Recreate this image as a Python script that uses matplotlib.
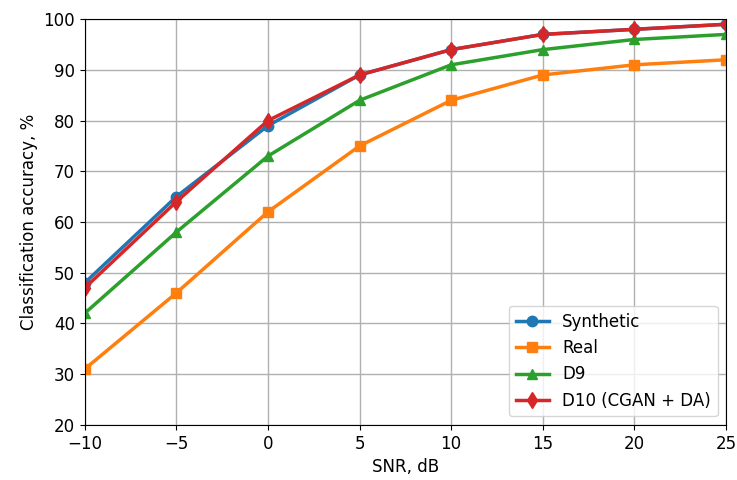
import matplotlib
matplotlib.use('Agg')
import matplotlib.pyplot as plt

# data
snr = [-10, -5, 0, 5, 10, 15, 20, 25]
synthetic = [48, 65, 79, 89, 94, 97, 98, 99]
real = [31, 46, 62, 75, 84, 89, 91, 92]
d9 = [42, 58, 73, 84, 91, 94, 96, 97]
d10 = [47, 64, 80, 89, 94, 97, 98, 99]

plt.rcParams['font.size'] = 12
fig, ax = plt.subplots(figsize=(7.37, 4.8), dpi=100)

ax.plot(snr, synthetic, marker='o', color='#1f77b4', lw=2.5, ms=7.5, label='Synthetic')
ax.plot(snr, real, marker='s', color='#ff7f0e', lw=2.5, ms=7.5, label='Real')
ax.plot(snr, d9, marker='^', color='#2ca02c', lw=2.5, ms=7.5, label='D9')
ax.plot(snr, d10, marker='d', color='#d62728', lw=2.5, ms=8.5, label='D10 (CGAN + DA)')

ax.set_xlim(-10, 25)
ax.set_ylim(20, 100)
ax.set_xlabel('SNR, dB')
ax.set_ylabel('Classification accuracy, %')
ax.grid(True, color='#b0b0b0', lw=1)
ax.legend(loc='lower right', fontsize=12)

fig.subplots_adjust(left=0.115, right=0.985, top=0.96, bottom=0.115)
fig.savefig('out.png', dpi=100)
